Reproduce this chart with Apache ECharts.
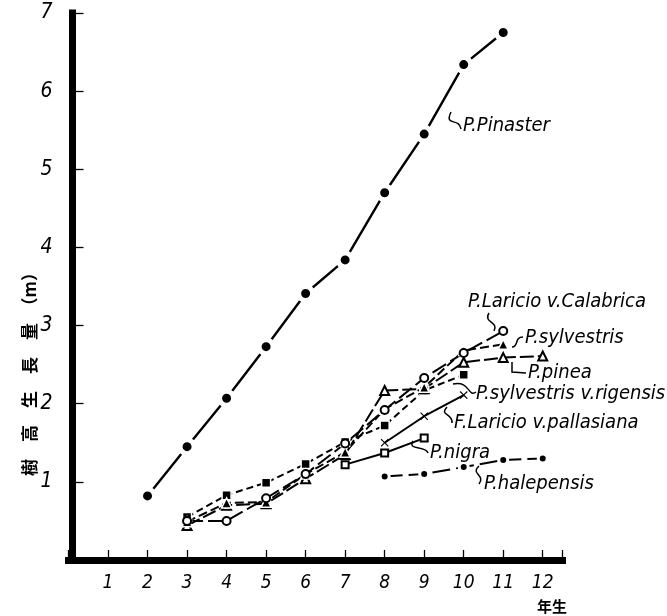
<!DOCTYPE html>
<html><head><meta charset="utf-8">
<script src="https://cdn.jsdelivr.net/npm/echarts@6/dist/echarts.min.js"></script>
<style>html,body{margin:0;padding:0;background:#fff}#c{width:667px;height:616px}</style>
</head><body><div id="c"></div>
<script>
// ---- data ----
const years = [1, 2, 3, 4, 5, 6, 7, 8, 9, 10, 11, 12];
const xTickLabels = ['1', '2', '3', '4', '5', '6', '7', '8', '9', '10', '11', '12'];
const yTickLabels = ['1', '2', '3', '4', '5', '6', '7'];
const seriesNames = ['P.Pinaster', 'P.Laricio v.Calabrica', 'P.sylvestris', 'P.pinea',
  'P.sylvestris v.rigensis', 'F.Laricio v.pallasiana', 'P.nigra', 'P.halepensis'];
const pinaster   = [null, 0.82, 1.45, 2.07, 2.73, 3.41, 3.84, 4.70, 5.45, 6.34, 6.75, null];
const calabrica  = [null, null, 0.50, 0.50, 0.79, 1.10, 1.49, 1.92, 2.33, 2.65, 2.93, null];
const sylvestris = [null, null, 0.49, 0.73, 0.74, 1.10, 1.38, 1.93, 2.21, 2.68, 2.76, null];
const pinea      = [null, null, 0.44, 0.70, 0.72, 1.04, 1.35, 2.17, 2.19, 2.53, 2.59, 2.61];
const rigensis   = [null, null, 0.55, 0.83, 0.99, 1.23, 1.51, 1.72, 2.17, 2.37, null, null];
const pallasiana = [null, null, null, null, null, null, null, 1.50, 1.84, 2.11, null, null];
const nigra      = [null, null, null, null, null, null, 1.22, 1.37, 1.56, null, null, null];
const halepensis = [null, null, null, null, null, null, null, 1.07, 1.10, 1.19, 1.28, 1.30];
const xAxisName = '年生';
const yAxisName = '樹　高　生　長　量　（m）';

// ---- helpers ----
const F = "'Liberation Sans Narrow','DejaVu Sans Condensed','Liberation Sans',sans-serif";
const CJK = "'Noto Sans CJK JP','Noto Sans CJK SC',sans-serif";
function pts(vals) {
  const out = [];
  years.forEach((y, i) => { if (vals[i] != null) out.push([y, vals[i]]); });
  return out;
}
const crossPath = 'path://M1,0 L5,4 L9,0 L10,1 L6,5 L10,9 L9,10 L5,6 L1,10 L0,9 L4,5 L0,1Z';

function mk(name, vals, symbol, size, dash, opts) {
  opts = opts || {};
  return {
    name: name, type: 'line', data: pts(vals), symbol: symbol, symbolSize: size,
    showAllSymbol: true, animation: false, z: opts.z || 2,
    lineStyle: { color: '#000', width: opts.lw || 2, type: dash },
    itemStyle: Object.assign({ color: '#000' }, opts.border ? { borderColor: '#fff', borderWidth: opts.border } : {}),
    emphasis: { disabled: true }
  };
}

const series = [
  mk(seriesNames[6], nigra, 'emptyRect', 7, 'solid', { lw: 2 }),
  mk(seriesNames[7], halepensis, 'circle', 9, [18, 6], { border: 3, lw: 2 }),
  mk(seriesNames[5], pallasiana, crossPath, 8, 'solid', { lw: 2 }),
  mk(seriesNames[4], rigensis, 'rect', 9, [7, 4], { border: 1.5, lw: 2 }),
  mk(seriesNames[3], pinea, 'emptyTriangle', 9, [14, 4], { lw: 2 }),
  mk(seriesNames[2], sylvestris, 'triangle', 10, [9, 4], { border: 1.5, lw: 2 }),
  mk(seriesNames[1], calabrica, 'emptyCircle', 8, [16, 5], { lw: 2 }),
  mk(seriesNames[0], pinaster, 'circle', 14, 'solid', { border: 5, lw: 2.4, z: 3 })
];

// annotation label placement (pixel layout)
const labelLayout = [
  [0, 463, 126], [1, 468, 302], [2, 525, 338], [3, 528, 373],
  [4, 476, 394], [5, 454, 423], [6, 430, 453], [7, 484, 484]
];
const labelTexts = labelLayout.map(l => ({
  type: 'text', x: l[1], y: l[2], z: 10,
  style: { text: seriesNames[l[0]], fill: '#000', font: 'italic 20px ' + F, textAlign: 'left', textVerticalAlign: 'middle' }
}));
function bz(a) {
  return { type: 'bezierCurve', z: 10, shape: { x1: a[0], y1: a[1], cpx1: a[2], cpy1: a[3], cpx2: a[4], cpy2: a[5], x2: a[6], y2: a[7] },
    style: { stroke: '#000', lineWidth: 1.5, fill: null } };
}
const connectors = [
  bz([451, 112, 444, 127, 459, 117, 461, 129]),
  bz([489, 313, 483, 323, 499, 321, 494, 331]),
  bz([512, 347, 519, 347, 514, 337, 523, 337]),
  { type: 'polyline', z: 10, shape: { points: [[512, 362], [512, 372], [526, 373]] }, style: { stroke: '#000', lineWidth: 1.5, fill: null } },
  bz([453, 384, 470, 380, 468, 398, 476, 392]),
  bz([447, 407, 439, 416, 453, 413, 452, 423]),
  bz([413, 441, 407, 451, 426, 445, 428, 453]),
  bz([479, 466, 470, 474, 486, 475, 479, 484])
];

const chart = echarts.init(document.getElementById('c'), null, { renderer: 'canvas' });
chart.setOption({
  backgroundColor: '#fff',
  animation: false,
  grid: { left: 68.5, right: 104.5, top: 13, bottom: 56, containLabel: false },
  xAxis: {
    type: 'value', min: 0, max: 12.5, interval: 1,
    axisLine: { show: true, lineStyle: { color: '#000', width: 7, cap: 'square' } },
    axisTick: { show: true, inside: true, length: 10, lineStyle: { color: '#000', width: 1.3 } },
    axisLabel: { formatter: v => (v >= 1 && v <= 12 && Number.isInteger(v)) ? xTickLabels[v - 1] : '',
      color: '#000', fontFamily: F, fontStyle: 'italic', fontSize: 19, margin: 14 },
    splitLine: { show: false }
  },
  yAxis: {
    type: 'value', min: 0, max: 7, interval: 1, offset: -4,
    axisLine: { show: true, lineStyle: { color: '#000', width: 7, cap: 'square' } },
    axisTick: { show: true, inside: true, length: 11, lineStyle: { color: '#000', width: 1.3 } },
    axisLabel: { formatter: v => (v >= 1 && v <= 7) ? yTickLabels[v - 1] : '',
      color: '#000', fontFamily: F, fontStyle: 'italic', fontSize: 21, margin: 20 },
    splitLine: { show: false }
  },
  graphic: [
    { type: 'text', x: 30, y: 370, rotation: Math.PI / 2, z: 10,
      style: { text: yAxisName, fill: '#000', font: 'bold 17px ' + CJK, textAlign: 'center', textVerticalAlign: 'middle' } },
    { type: 'text', x: 552, y: 606, z: 10,
      style: { text: xAxisName, fill: '#000', font: 'bold 15px ' + CJK, textAlign: 'center', textVerticalAlign: 'middle' } }
  ].concat(labelTexts, connectors),
  series: series
});
</script>
</body></html>
